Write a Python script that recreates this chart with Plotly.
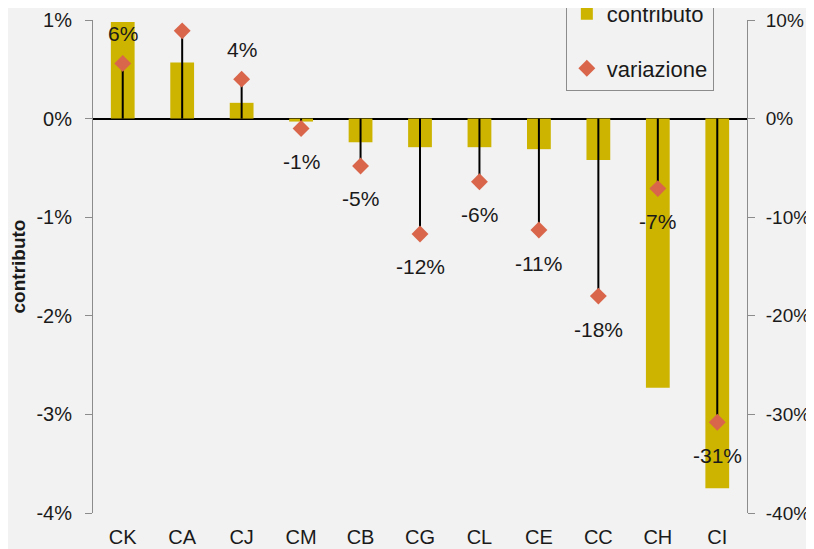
import plotly.graph_objects as go

categories = ["CK", "CA", "CJ", "CM", "CB", "CG", "CL", "CE", "CC", "CH", "CI"]
contributo = [0.98, 0.57, 0.16, -0.03, -0.24, -0.29, -0.29, -0.31, -0.42, -2.73, -3.75]
variazione = [5.6, 8.9, 4.0, -1.0, -4.8, -11.7, -6.4, -11.3, -18.0, -7.1, -30.8]
var_labels = ["6%", "9%", "4%", "-1%", "-5%", "-12%", "-6%", "-11%", "-18%", "-7%", "-31%"]
left_ticks = [-4, -3, -2, -1, 0, 1]
left_ticktext = ["-4%", "-3%", "-2%", "-1%", "0%", "1%"]
right_ticks = [-40, -30, -20, -10, 0, 10]
right_ticktext = ["-40%", "-30%", "-20%", "-10%", "0%", "10%"]

BAR = "#CCB400"
DIA = "#D9664B"
BG = "#F2F2F2"
AX = "#8C8C8C"
TXT = "#1A1A1A"
FONT = "Liberation Sans"

fig = go.Figure()
fig.add_trace(go.Bar(x=categories, y=contributo, name="contributo", marker_color=BAR,
                     marker_line_width=0, width=0.4, yaxis="y", legendgroup="a"))

# drop lines from 0 to each variazione value
lx, ly = [], []
for c, v in zip(categories, variazione):
    lx += [c, c, None]
    ly += [0, v, None]
fig.add_trace(go.Scatter(x=lx, y=ly, mode="lines", line=dict(color="black", width=2),
                         yaxis="y2", showlegend=False, hoverinfo="skip"))
fig.add_trace(go.Scatter(x=categories, y=variazione, mode="markers", name="variazione",
                         marker=dict(symbol="diamond", size=13, color=DIA, line_width=0),
                         yaxis="y2", legendgroup="b"))

annotations = []
for c, v, t in zip(categories, variazione, var_labels):
    annotations.append(dict(x=c, y=v, xref="x", yref="y2", text=t, showarrow=False,
                            yshift=30 if v >= 0 else -33,
                            font=dict(family=FONT, size=21, color=TXT)))

fig.update_layout(
    width=814, height=549,
    margin=dict(l=85, r=75, t=12, b=44, autoexpand=False),
    paper_bgcolor=BG, plot_bgcolor=BG,
    font=dict(family=FONT, size=20, color=TXT),
    annotations=annotations,
    showlegend=True,
    legend=dict(x=0.723, xanchor="left", y=1.057, yanchor="top",
                bgcolor=BG, bordercolor=AX, borderwidth=1,
                font=dict(family=FONT, size=22, color=TXT),
                tracegroupgap=23, traceorder="grouped"),
    xaxis=dict(range=[-0.5, 10.5], showline=False, ticks="", showgrid=False,
               tickfont=dict(size=20), zeroline=False, ticklabelstandoff=10),
    yaxis=dict(range=[-4, 1], tickvals=left_ticks, ticktext=left_ticktext,
               showgrid=False, showline=True, linecolor=AX, linewidth=1,
               ticks="outside", ticklen=7, tickcolor=AX, ticklabelstandoff=9,
               zeroline=True, zerolinecolor="black", zerolinewidth=1.5,
               title=dict(text="<b>contributo</b>", font=dict(size=19), standoff=8)),
    yaxis2=dict(range=[-40, 10], tickvals=right_ticks, ticktext=right_ticktext,
                overlaying="y", side="right", showgrid=False, showline=True,
                linecolor=AX, linewidth=1, ticks="outside", ticklen=7, tickcolor=AX,
                tickfont=dict(size=19), ticklabelstandoff=7, zeroline=False),
)

fig.write_html("out.html")
